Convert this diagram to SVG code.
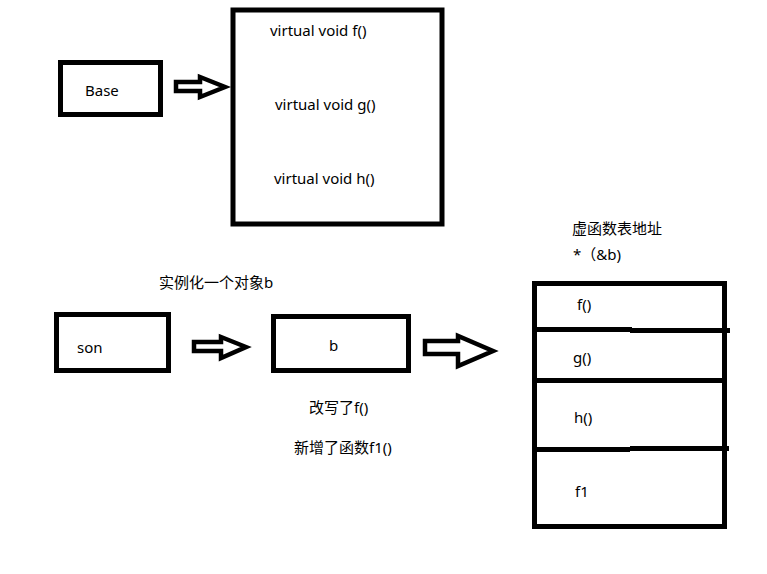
<svg xmlns="http://www.w3.org/2000/svg" width="767" height="574" viewBox="0 0 767 574">
<style>
.box{fill:none;stroke:#000;stroke-width:5}
.arr{fill:#fff;stroke:#000;stroke-width:4.5;stroke-linejoin:miter}
.ln{stroke:#000;stroke-width:5}
text{font-family:"Noto Sans","Noto Sans CJK SC",sans-serif;font-size:15px;fill:#000}
</style>
<rect width="767" height="574" fill="#fff"/>
<g id="base">
<rect class="box" x="60.5" y="62.5" width="100" height="52"/>
<text x="85" y="96">Base</text>
</g>
<g id="vtable-base">
<rect class="box" x="233" y="10" width="209" height="214"/>
<text x="270" y="36">virtual void f()</text>
<text x="275" y="110">virtual void g()</text>
<text x="274" y="184">virtual void h()</text>
</g>
<g id="son">
<rect class="box" x="56.5" y="314.5" width="112" height="56"/>
<text x="77" y="353">son</text>
</g>
<g id="b">
<rect class="box" x="273.5" y="316.5" width="135" height="54"/>
<text x="329" y="351">b</text>
</g>
<g id="labels">
<text x="159" y="288">实例化一个对象b</text>
<text x="309" y="413">改写了f()</text>
<text x="294" y="453">新增了函数f1()</text>
<text x="572" y="234">虚函数表地址</text>
<text x="573" y="260">*（&amp;b)</text>
</g>
<g id="vtable-son">
<rect class="box" x="534.5" y="283.5" width="190" height="243"/>
<line class="ln" x1="534" y1="329.5" x2="632" y2="329.5"/>
<line class="ln" x1="630" y1="330.5" x2="730" y2="330.5"/>
<line class="ln" x1="534" y1="380.5" x2="727" y2="380.5"/>
<line class="ln" x1="534" y1="449.5" x2="630" y2="449.5"/>
<line class="ln" x1="630" y1="448.5" x2="729" y2="448.5"/>
<text x="577" y="310">f()</text>
<text x="573" y="363">g()</text>
<text x="574" y="423">h()</text>
<text x="575" y="497">f1</text>
</g>
<g id="connectors">
<polygon class="arr" points="176,82 200,82 200,77 225,87 200,97 200,91 176,91"/>
<polygon class="arr" points="194,342 221,342 221,337 246,347 221,358 221,351 194,351"/>
<polygon class="arr" points="425,341 458,341 458,336 493,351 458,366 458,354 425,354"/>
</g>
</svg>
